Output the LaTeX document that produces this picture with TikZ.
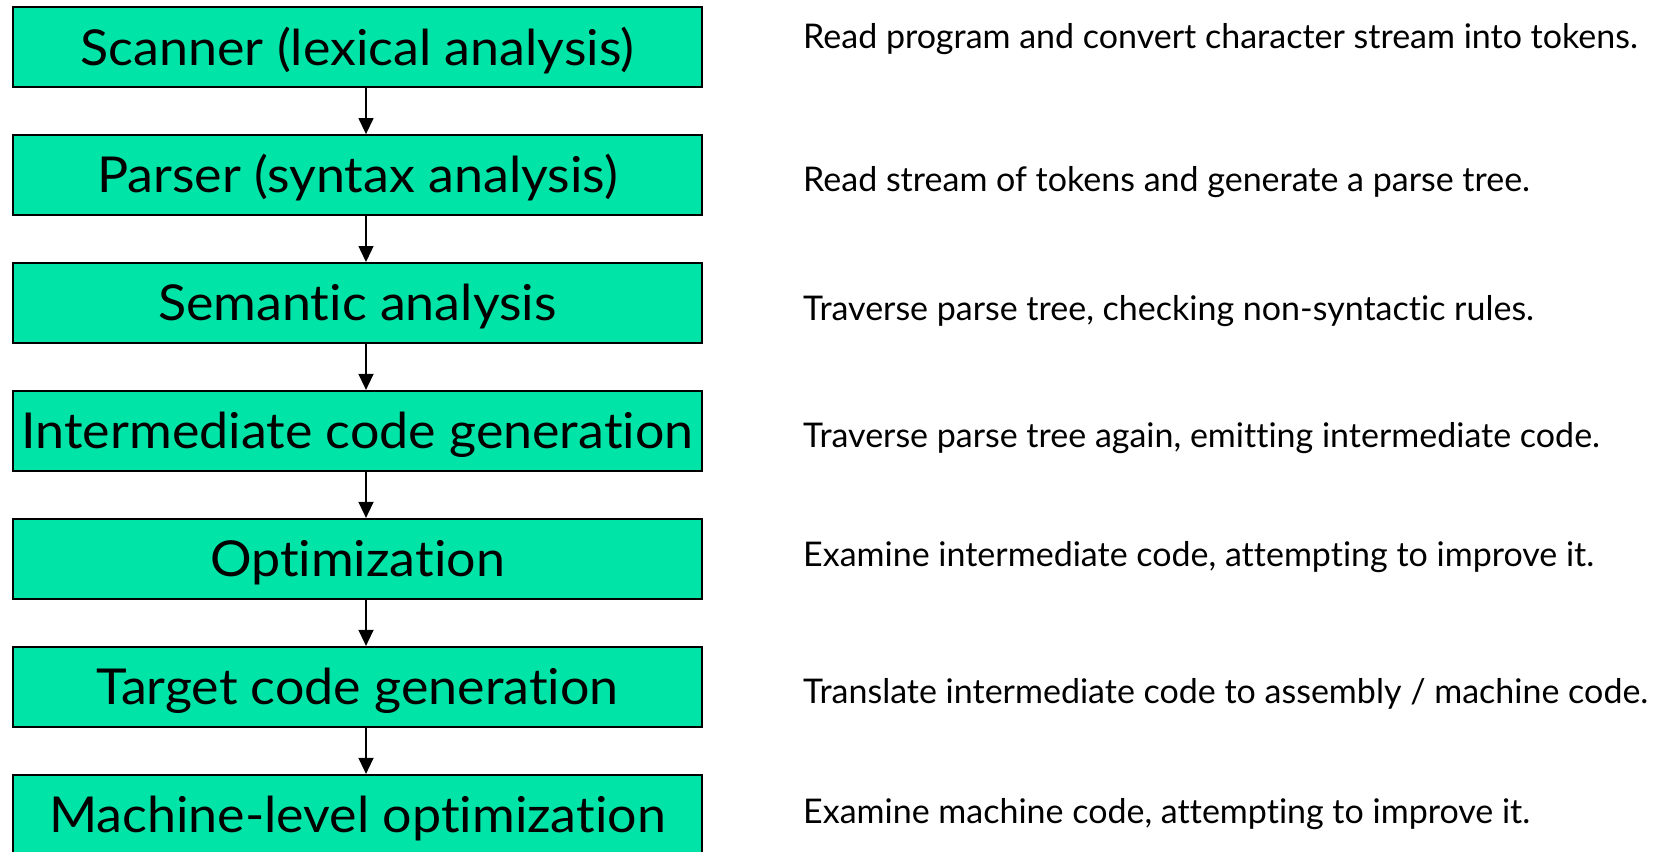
\documentclass[tikz,border=0pt]{standalone}
\usepackage{fontspec}
\setmainfont{Lato}[Ligatures=NoCommon]
\newfontfamily\stagefont{Lato}[Ligatures=NoCommon, FakeStretch=1.05]
\usetikzlibrary{arrows.meta}
\definecolor{stagefill}{RGB}{0,228,168}
\tikzset{
  stage/.style={draw=black, line width=2.2pt, fill=stagefill,
    minimum width=689pt, minimum height=80pt, inner sep=0pt,
    text height=35.5pt, text depth=0pt,
    font=\stagefont\fontsize{49.5}{55}\selectfont},
  note/.style={anchor=base west, inner sep=0pt,
    font=\fontsize{34}{38}\selectfont},
  flow/.style={line width=1.4pt, -{Triangle[length=16pt,width=15pt]}}
}
\begin{document}
\begin{tikzpicture}[x=1pt,y=-1pt]
\clip (0,0) rectangle (1664,851);
\fill[white] (0,0) rectangle (1664,851);

% compiler phases
\node[stage] (s1) at (357.5,47.3) {Scanner (lexical analysis)};
\node[stage] (s2) at (357.5,175.2) {Parser (syntax analysis)};
\node[stage] (s3) at (357.5,303.1) {Semantic analysis};
\node[stage] (s4) at (357.5,431.0) {Intermediate code generation};
\node[stage] (s5) at (357.5,559.0) {Optimization};
\node[stage] (s6) at (357.5,687.0) {Target code generation};
\node[stage] (s7) at (357.5,815.0) {Machine-level optimization};

% flow between phases
\foreach \a/\b in {s1/s2,s2/s3,s3/s4,s4/s5,s5/s6,s6/s7}
  \draw[flow] ([xshift=8.5pt]\a.south) -- ([xshift=8.5pt]\b.north);

% descriptions
\node[note] (d1) at (803,48.3) {Read program and convert character stream into tokens.};
\node[note] (d2) at (803,191.7) {Read stream of tokens and generate a parse tree.};
\node[note] (d3) at (803,320.0) {Traverse parse tree, checking non-syntactic rules.};
\node[note] (d4) at (803,447.3) {Traverse parse tree again, emitting intermediate code.};
\node[note] (d5) at (803,566.0) {Examine intermediate code, attempting to improve it.};
\node[note] (d6) at (803,703.3) {Translate intermediate code to assembly / machine code.};
\node[note] (d7) at (803,823.3) {Examine machine code, attempting to improve it.};
\end{tikzpicture}
\end{document}
